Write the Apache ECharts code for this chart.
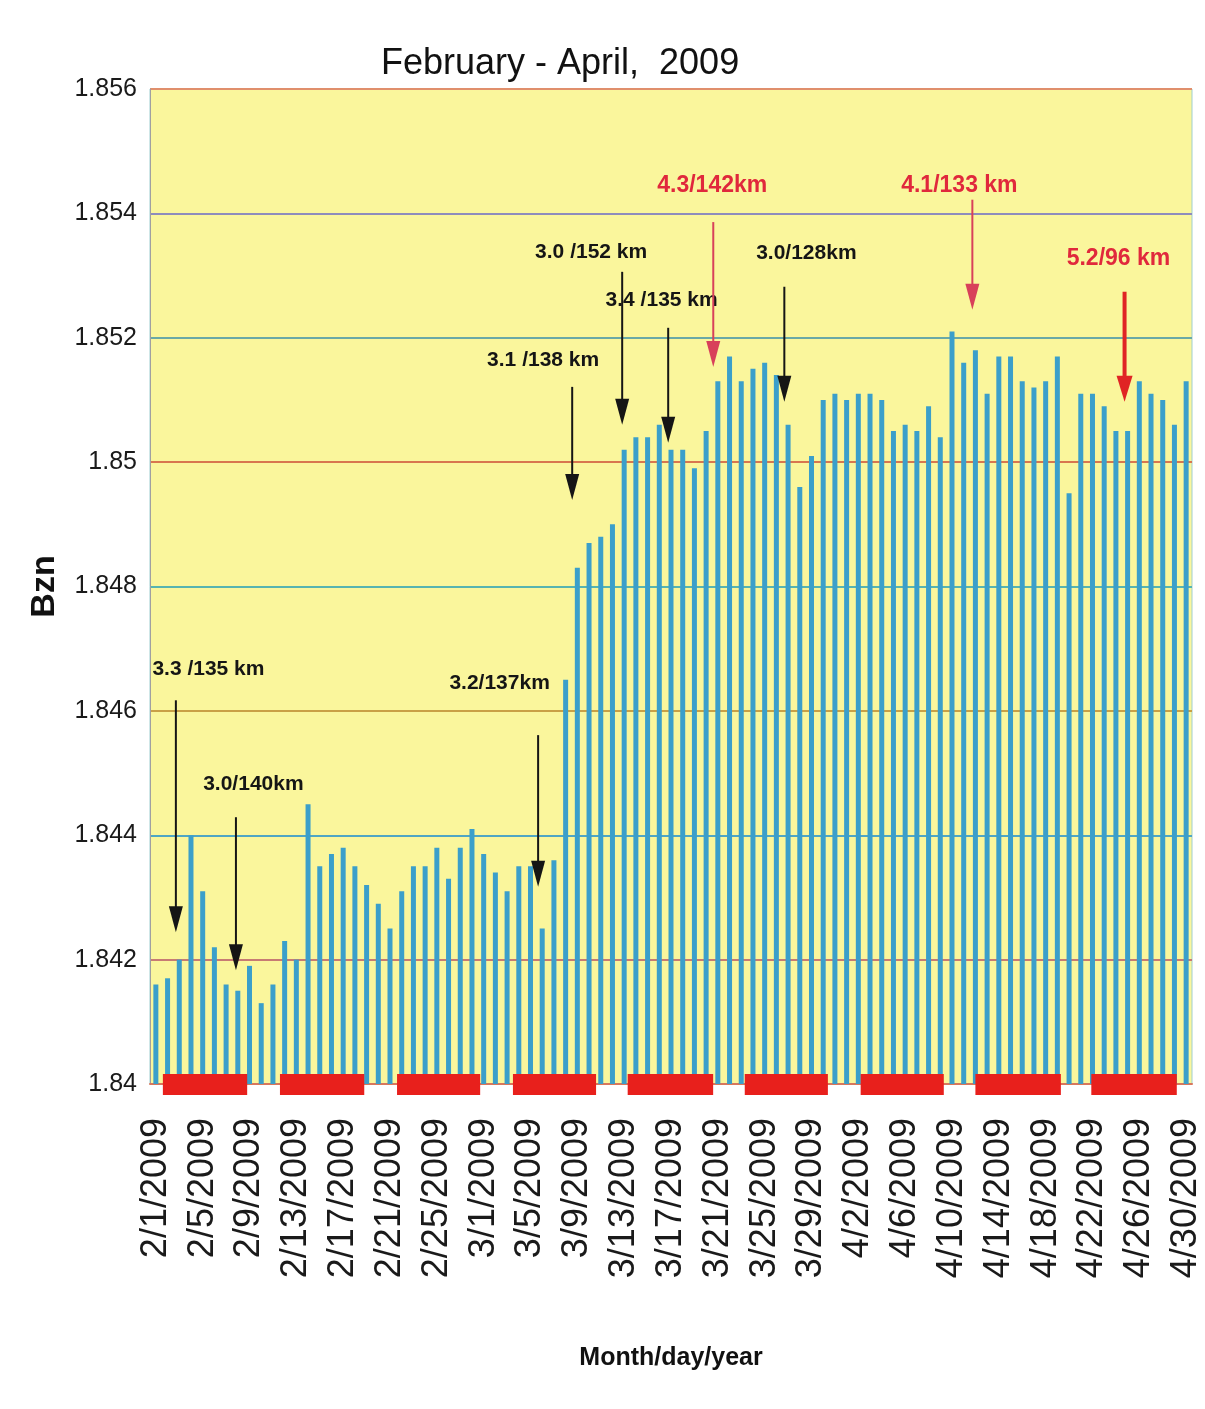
<!DOCTYPE html>
<html>
<head>
<meta charset="utf-8">
<title>Bzn, February - April 2009</title>
<script src="https://cdn.jsdelivr.net/npm/echarts@6/dist/echarts.min.js"></script>
<style>
  html, body { margin: 0; padding: 0; background: #fff; }
  #chart { width: 1205px; height: 1409px; }
</style>
</head>
<body>
<div id="chart"></div>
<script>
// one bar per day, 2/1/2009 .. 4/30/2009
const months = [[2, 28], [3, 31], [4, 30]];
const dates = [];
months.forEach(([m, n]) => {
  for (let d = 1; d <= n; d++) dates.push(m + '/' + d + '/2009');
});

const bzn = [
  1.8416, 1.8417, 1.8420, 1.8440, 1.8431, 1.8422, 1.8416, 1.8415, 1.8419, 1.8413,
  1.8416, 1.8423, 1.8420, 1.8445, 1.8435, 1.8437, 1.8438, 1.8435, 1.8432, 1.8429,
  1.8425, 1.8431, 1.8435, 1.8435, 1.8438, 1.8433, 1.8438, 1.8441, 1.8437, 1.8434,
  1.8431, 1.8435, 1.8435, 1.8425, 1.8436, 1.8465, 1.8483, 1.8487, 1.8488, 1.8490,
  1.8502, 1.8504, 1.8504, 1.8506, 1.8502, 1.8502, 1.8499, 1.8505, 1.8513, 1.8517,
  1.8513, 1.8515, 1.8516, 1.8514, 1.8506, 1.8496, 1.8501, 1.8510, 1.8511, 1.8510,
  1.8511, 1.8511, 1.8510, 1.8505, 1.8506, 1.8505, 1.8509, 1.8504, 1.8521, 1.8516,
  1.8518, 1.8511, 1.8517, 1.8517, 1.8513, 1.8512, 1.8513, 1.8517, 1.8495, 1.8511,
  1.8511, 1.8509, 1.8505, 1.8505, 1.8513, 1.8511, 1.8510, 1.8506, 1.8513
];

// red bars on the time axis: [from, to] in days after 2/1
const redBands = [
  [0.6, 7.8], [10.6, 17.8], [20.6, 27.7], [30.5, 37.6], [40.3, 47.6],
  [50.3, 57.4], [60.2, 67.3], [70.0, 77.3], [79.9, 87.2]
];

// events: label, kind, and [label day, label value, arrow day, arrow start, arrow tip]
const eventLabels = [
  '3.3 /135 km', '3.0/140km', '3.2/137km', '3.1 /138 km', '3.0 /152 km',
  '3.4 /135 km', '4.3/142km', '3.0/128km', '4.1/133 km', '5.2/96 km'
];
const eventKinds = ['black', 'black', 'black', 'black', 'black', 'black', 'red', 'black', 'red', 'redBold'];
const eventPos = [
  [4.49, 1.84667, 1.71, 1.84617, 1.84244],
  [8.33, 1.84482, 6.84, 1.84429, 1.84183],
  [29.36, 1.84645, 32.65, 1.84561, 1.84317],
  [33.08, 1.85164, 35.56, 1.85121, 1.84939],
  [37.18, 1.85338, 39.83, 1.85306, 1.85060],
  [43.20, 1.85261, 43.76, 1.85216, 1.85031],
  [47.52, 1.85444, 47.61, 1.85386, 1.85153],
  [55.56, 1.85336, 53.68, 1.85282, 1.85097],
  [68.63, 1.85444, 69.74, 1.85422, 1.85245],
  [82.22, 1.85327, 82.74, 1.85274, 1.85097]
];

const kindStyle = {
  black:   { text: '#151515', line: '#151515', width: 2, size: 21 },
  red:     { text: '#e0283c', line: '#d8405a', width: 2, size: 23 },
  redBold: { text: '#e0283c', line: '#e02424', width: 4, size: 23 }
};

const FONT = '"Liberation Sans", Arial, sans-serif';

const chart = echarts.init(document.getElementById('chart'));

const option = {
  backgroundColor: '#ffffff',
  animation: false,
  title: {
    text: 'February - April,  2009',
    left: 381,
    top: 46,
    padding: 0,
    textStyle: {
      fontFamily: FONT,
      fontSize: 36,
      fontWeight: 'normal',
      color: '#111'
    }
  },
  grid: {
    left: 150,
    right: 13,
    top: 89,
    bottom: 325,
    show: true,
    backgroundColor: '#faf69c',
    borderColor: '#9fcfd0',
    borderWidth: 1
  },
  xAxis: [
    {
      type: 'category',
      data: dates,
      boundaryGap: true,
      name: 'Month/day/year',
      nameLocation: 'middle',
      nameGap: 262,
      nameTextStyle: {
        fontFamily: FONT,
        fontSize: 25,
        fontWeight: 'bold',
        color: '#111'
      },
      axisLine: { lineStyle: { color: '#d9775c', width: 2 } },
      axisTick: { show: false },
      axisLabel: {
        interval: 3,
        rotate: 90,
        margin: 34,
        fontFamily: FONT,
        fontSize: 36,
        color: '#1a1a1a'
      }
    },
    {
      // hidden helper axis for the red bars and event arrows
      type: 'value',
      min: -0.5,
      max: 88.5,
      show: false
    }
  ],
  yAxis: {
    type: 'value',
    min: 1.84,
    max: 1.856,
    interval: 0.002,
    name: 'Bzn',
    nameLocation: 'middle',
    nameRotate: 90,
    nameGap: 88,
    nameTextStyle: {
      fontFamily: FONT,
      fontSize: 34,
      fontWeight: 'bold',
      color: '#111'
    },
    axisLine: { show: true, onZero: false, lineStyle: { color: '#a0a0a0', width: 1 } },
    axisTick: { show: false },
    axisLabel: {
      margin: 13,
      fontFamily: FONT,
      fontSize: 25,
      color: '#1a1a1a',
      formatter: v => String(parseFloat(v.toFixed(3)))
    },
    splitLine: {
      lineStyle: {
        width: 2,
        color: ['#d9775c', '#c77b73', '#4fa6c4', '#c9a046', '#57b4b0',
                 '#d8764f', '#6aa9a6', '#8e8cbc', '#e08f6c']
      }
    }
  },
  series: [
    {
      name: 'Bzn',
      type: 'bar',
      data: bzn,
      barWidth: 5,
      itemStyle: { color: '#3b9fca' },
      z: 2
    },
    {
      name: 'bands',
      type: 'custom',
      xAxisIndex: 1,
      yAxisIndex: 0,
      clip: false,
      z: 5,
      data: redBands,
      renderItem(params, api) {
        const p0 = api.coord([api.value(0), 1.84]);
        const p1 = api.coord([api.value(1), 1.84]);
        return {
          type: 'rect',
          shape: { x: p0[0], y: p0[1] - 10, width: p1[0] - p0[0], height: 21 },
          style: { fill: '#e8201c' }
        };
      }
    },
    {
      name: 'events',
      type: 'custom',
      xAxisIndex: 1,
      yAxisIndex: 0,
      clip: false,
      z: 6,
      data: eventPos,
      renderItem(params, api) {
        const i = params.dataIndex;
        const st = kindStyle[eventKinds[i]];
        const lp = api.coord([api.value(0), api.value(1)]);
        const a0 = api.coord([api.value(2), api.value(3)]);
        const a1 = api.coord([api.value(2), api.value(4)]);
        const head = 26;
        const hw = st.width > 2 ? 8 : 7;
        return {
          type: 'group',
          children: [
            {
              type: 'line',
              shape: { x1: a0[0], y1: a0[1], x2: a1[0], y2: a1[1] - head + 2 },
              style: { stroke: st.line, lineWidth: st.width }
            },
            {
              type: 'polygon',
              shape: {
                points: [[a1[0] - hw, a1[1] - head], [a1[0] + hw, a1[1] - head], [a1[0], a1[1]]]
              },
              style: { fill: st.line }
            },
            {
              type: 'text',
              style: {
                text: eventLabels[i],
                x: lp[0],
                y: lp[1],
                align: 'center',
                verticalAlign: 'middle',
                fontFamily: FONT,
                fontWeight: 'bold',
                fontSize: st.size,
                fill: st.text
              }
            }
          ]
        };
      }
    }
  ]
};

chart.setOption(option);
</script>
</body>
</html>
